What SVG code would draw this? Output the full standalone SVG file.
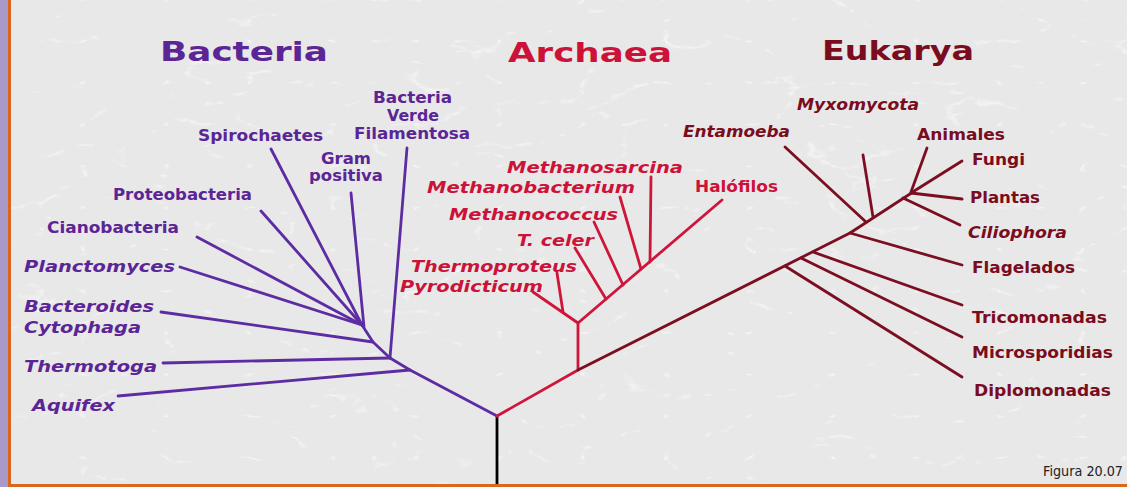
<svg xmlns="http://www.w3.org/2000/svg" width="1127" height="487" viewBox="0 0 1127 487">
<style>
.t{font-family:"DejaVu Sans","Liberation Sans",sans-serif;font-weight:bold;font-size:16px}
.s{font-size:15px}
.i{font-style:italic}
.title{font-family:"DejaVu Sans","Liberation Sans",sans-serif;font-weight:bold;font-size:27px}
.bac{fill:#5b2596}
.arc{fill:#cc1238}
.euk{fill:#7a0c1e}
.lb{stroke:#5d2ca3;stroke-width:2.8;fill:none;stroke-linecap:round;stroke-linejoin:round}
.la{stroke:#d0153a;stroke-width:2.8;fill:none;stroke-linecap:round;stroke-linejoin:round}
.le{stroke:#7b0e20;stroke-width:2.8;fill:none;stroke-linecap:round;stroke-linejoin:round}
.fig{font-family:"DejaVu Sans","Liberation Sans",sans-serif;font-size:13.5px;fill:#222}
</style>
<defs>
<filter id="marble" x="0" y="0" width="100%" height="100%">
<feTurbulence type="turbulence" baseFrequency="0.012 0.024" numOctaves="4" seed="11"/>
<feColorMatrix type="matrix" values="0 0 0 0 1 0 0 0 0 1 0 0 0 0 1 -9 0 0 0 1.05"/>
</filter>
</defs>
<rect x="0" y="0" width="1127" height="487" fill="#e8e8e8"/>
<rect x="0" y="0" width="1127" height="487" filter="url(#marble)" opacity="0.55"/>
<rect x="0" y="0" width="8" height="487" fill="#a999cb"/>
<rect x="8" y="0" width="3" height="487" fill="#d9671e"/>
<rect x="8" y="484" width="1119" height="3" fill="#d9671e"/>

<g id="titles">
<text class="title bac" x="160" y="61" textLength="168" lengthAdjust="spacingAndGlyphs">Bacteria</text>
<text class="title arc" x="508" y="61.5" textLength="164" lengthAdjust="spacingAndGlyphs">Archaea</text>
<text class="title euk" x="822" y="60" textLength="152" lengthAdjust="spacingAndGlyphs">Eukarya</text>
</g>

<g id="connectors">
<line x1="497" y1="416" x2="497" y2="484" stroke="#000" stroke-width="2.8"/>
<polyline class="lb" points="497,416 410,370 390,358 373,342 362,325"/>
<line class="lb" x1="407" y1="148" x2="390" y2="358"/>
<line class="lb" x1="163" y1="363" x2="390" y2="358"/>
<line class="lb" x1="161" y1="312" x2="373" y2="342"/>
<line class="lb" x1="118" y1="396" x2="410" y2="370"/>
<line class="lb" x1="351" y1="193" x2="364" y2="327"/>
<line class="lb" x1="271" y1="149" x2="362" y2="325"/>
<line class="lb" x1="261" y1="211" x2="362" y2="325"/>
<line class="lb" x1="197" y1="237" x2="362" y2="325"/>
<line class="lb" x1="180" y1="267" x2="362" y2="325"/>

<polyline class="la" points="497,416 578,370 578,323 533,292"/>
<line class="la" x1="563" y1="312" x2="557" y2="273"/>
<line class="la" x1="578" y1="323" x2="722" y2="200"/>
<line class="la" x1="606" y1="299" x2="575" y2="248"/>
<line class="la" x1="623" y1="285" x2="594" y2="222"/>
<line class="la" x1="641" y1="269" x2="620" y2="197"/>
<line class="la" x1="650" y1="262" x2="651" y2="177"/>

<polyline class="le" points="578,370 850,233 913,192"/>
<line class="le" x1="785" y1="266" x2="962" y2="377"/>
<line class="le" x1="801" y1="258" x2="962" y2="337"/>
<line class="le" x1="813" y1="252" x2="962" y2="305"/>
<line class="le" x1="850" y1="233" x2="962" y2="265"/>
<line class="le" x1="785" y1="147" x2="866" y2="222"/>
<line class="le" x1="863" y1="155" x2="873" y2="217"/>
<line class="le" x1="903" y1="198" x2="960" y2="225"/>
<line class="le" x1="927" y1="148" x2="911" y2="192"/>
<line class="le" x1="962" y1="161" x2="911" y2="193"/>
<line class="le" x1="962" y1="199" x2="911" y2="193"/>
</g>

<g id="bacteria-labels">
<g id="n-verde"><text class="t bac" x="373" y="103" textLength="79" lengthAdjust="spacingAndGlyphs">Bacteria</text>
<text class="t bac" x="387" y="121" textLength="52" lengthAdjust="spacingAndGlyphs">Verde</text>
<text class="t bac" x="354" y="139" textLength="116" lengthAdjust="spacingAndGlyphs">Filamentosa</text></g>
<g id="n-spiro"><text class="t bac" x="198" y="141" textLength="125" lengthAdjust="spacingAndGlyphs">Spirochaetes</text></g>
<g id="n-gram"><text class="t s bac" x="321" y="163.5" textLength="50" lengthAdjust="spacingAndGlyphs">Gram</text>
<text class="t s bac" x="309" y="181" textLength="74" lengthAdjust="spacingAndGlyphs">positiva</text></g>
<g id="n-proteo"><text class="t bac" x="113" y="200" textLength="139" lengthAdjust="spacingAndGlyphs">Proteobacteria</text></g>
<g id="n-ciano"><text class="t bac" x="47" y="233" textLength="132" lengthAdjust="spacingAndGlyphs">Cianobacteria</text></g>
<g id="n-plancto"><text class="t i bac" x="24" y="272" textLength="151" lengthAdjust="spacingAndGlyphs">Planctomyces</text></g>
<g id="n-bactero"><text class="t i bac" x="24" y="312" textLength="130" lengthAdjust="spacingAndGlyphs">Bacteroides</text>
<text class="t i bac" x="24" y="333" textLength="117" lengthAdjust="spacingAndGlyphs">Cytophaga</text></g>
<g id="n-thermotoga"><text class="t i bac" x="24" y="372" textLength="133" lengthAdjust="spacingAndGlyphs">Thermotoga</text></g>
<g id="n-aquifex"><text class="t i bac" x="32" y="411" textLength="83" lengthAdjust="spacingAndGlyphs">Aquifex</text></g>
</g>

<g id="archaea-labels">
<g id="n-msarcina"><text class="t i arc" x="507" y="173" textLength="176" lengthAdjust="spacingAndGlyphs">Methanosarcina</text></g>
<g id="n-mbact"><text class="t i arc" x="427" y="193" textLength="208" lengthAdjust="spacingAndGlyphs">Methanobacterium</text></g>
<g id="n-halo"><text class="t arc" x="695" y="192" textLength="83" lengthAdjust="spacingAndGlyphs">Halófilos</text></g>
<g id="n-mcoccus"><text class="t i arc" x="449" y="220" textLength="169" lengthAdjust="spacingAndGlyphs">Methanococcus</text></g>
<g id="n-tceler"><text class="t i arc" x="517" y="246" textLength="77" lengthAdjust="spacingAndGlyphs">T. celer</text></g>
<g id="n-thermoprot"><text class="t i arc" x="411" y="272" textLength="166" lengthAdjust="spacingAndGlyphs">Thermoproteus</text></g>
<g id="n-pyro"><text class="t i arc" x="400" y="292" textLength="143" lengthAdjust="spacingAndGlyphs">Pyrodicticum</text></g>
</g>

<g id="eukarya-labels">
<g id="n-myxo"><text class="t i euk" x="797" y="110" textLength="122" lengthAdjust="spacingAndGlyphs">Myxomycota</text></g>
<g id="n-entam"><text class="t i euk" x="683" y="137" textLength="107" lengthAdjust="spacingAndGlyphs">Entamoeba</text></g>
<g id="n-anim"><text class="t euk" x="917" y="140" textLength="88" lengthAdjust="spacingAndGlyphs">Animales</text></g>
<g id="n-fungi"><text class="t euk" x="972" y="165" textLength="53" lengthAdjust="spacingAndGlyphs">Fungi</text></g>
<g id="n-plantas"><text class="t euk" x="970" y="203" textLength="70" lengthAdjust="spacingAndGlyphs">Plantas</text></g>
<g id="n-cilio"><text class="t i euk" x="968" y="238" textLength="99" lengthAdjust="spacingAndGlyphs">Ciliophora</text></g>
<g id="n-flag"><text class="t euk" x="972" y="273" textLength="103" lengthAdjust="spacingAndGlyphs">Flagelados</text></g>
<g id="n-trico"><text class="t euk" x="972" y="323" textLength="135" lengthAdjust="spacingAndGlyphs">Tricomonadas</text></g>
<g id="n-micro"><text class="t euk" x="972" y="358" textLength="141" lengthAdjust="spacingAndGlyphs">Microsporidias</text></g>
<g id="n-diplo"><text class="t euk" x="974" y="396" textLength="137" lengthAdjust="spacingAndGlyphs">Diplomonadas</text></g>
</g>

<text class="fig" x="1043" y="476" textLength="80" lengthAdjust="spacingAndGlyphs">Figura 20.07</text>
</svg>
